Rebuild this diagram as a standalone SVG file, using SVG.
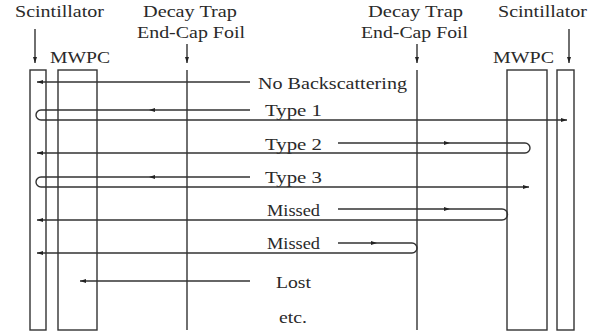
<svg xmlns="http://www.w3.org/2000/svg" width="599" height="336" viewBox="0 0 599 336" font-family="'Liberation Serif', 'DejaVu Serif', serif">
<defs>
<style>
text{font-family:'Liberation Serif','DejaVu Serif',serif;font-size:17px;fill:#2a2a2a}
.s{fill:none;stroke:#333;stroke-width:1.4}
.ma{fill:#222;stroke:none}
</style>
<marker id="ah" viewBox="0 0 6 4" refX="6" refY="2" markerWidth="6" markerHeight="4" orient="auto" markerUnits="userSpaceOnUse">
<path d="M0,0 L6,2 L0,4 z" fill="#222"/>
</marker>
</defs>
<rect width="599" height="336" fill="#fff"/>
<g id="scint-left">
<rect class="s" x="30" y="70" width="16" height="260"/>
<text x="15" y="17" textLength="89" lengthAdjust="spacingAndGlyphs">Scintillator</text>
</g>
<g id="mwpc-left">
<rect class="s" x="58" y="70" width="39" height="260"/>
<text x="50" y="63" textLength="60" lengthAdjust="spacingAndGlyphs">MWPC</text>
</g>
<g id="foil-left">
<line class="s" x1="187" y1="70" x2="187" y2="330"/>
<text x="143" y="17" textLength="94" lengthAdjust="spacingAndGlyphs">Decay Trap</text>
<text x="137" y="38" textLength="108" lengthAdjust="spacingAndGlyphs">End-Cap Foil</text>
</g>
<g id="foil-right">
<line class="s" x1="417" y1="70" x2="417" y2="330"/>
<text x="368" y="17" textLength="95" lengthAdjust="spacingAndGlyphs">Decay Trap</text>
<text x="361" y="38" textLength="107" lengthAdjust="spacingAndGlyphs">End-Cap Foil</text>
</g>
<g id="mwpc-right">
<rect class="s" x="507" y="70" width="40" height="260"/>
<text x="493" y="63" textLength="61" lengthAdjust="spacingAndGlyphs">MWPC</text>
</g>
<g id="scint-right">
<rect class="s" x="557" y="70" width="17" height="260"/>
<text x="498" y="17" textLength="89" lengthAdjust="spacingAndGlyphs">Scintillator</text>
</g>
<g id="labels">
<text x="258" y="89" textLength="149" lengthAdjust="spacingAndGlyphs">No Backscattering</text>
<text x="265" y="116" textLength="57" lengthAdjust="spacingAndGlyphs">Type 1</text>
<text x="265" y="150" textLength="57" lengthAdjust="spacingAndGlyphs">Type 2</text>
<text x="265" y="183" textLength="57" lengthAdjust="spacingAndGlyphs">Type 3</text>
<text x="267" y="216" textLength="53" lengthAdjust="spacingAndGlyphs">Missed</text>
<text x="267" y="249" textLength="53" lengthAdjust="spacingAndGlyphs">Missed</text>
<text x="276" y="288" textLength="35" lengthAdjust="spacingAndGlyphs">Lost</text>
<text x="279" y="323" textLength="28" lengthAdjust="spacingAndGlyphs">etc.</text>
</g>
<g id="connectors">
<line class="s" x1="35" y1="29" x2="35" y2="63" marker-end="url(#ah)"/>
<line class="s" x1="187" y1="44" x2="187" y2="63" marker-end="url(#ah)"/>
<line class="s" x1="417" y1="44" x2="417" y2="63" marker-end="url(#ah)"/>
<line class="s" x1="569" y1="29" x2="569" y2="63" marker-end="url(#ah)"/>
<path class="s" d="M250,82 H37" marker-end="url(#ah)"/>
<path class="s" d="M250,110 H41 A5,5 0 0 0 41,120 H567" marker-end="url(#ah)"/>
<path class="s" d="M338,143 H525 A5,5 0 0 1 525,153 H37" marker-end="url(#ah)"/>
<path class="s" d="M250,177 H41 A5,5 0 0 0 41,187 H529" marker-end="url(#ah)"/>
<path class="s" d="M338,209 H502 A5.5,5.5 0 0 1 502,220 H37" marker-end="url(#ah)"/>
<path class="s" d="M338,243 H412 A5,5 0 0 1 412,253 H37" marker-end="url(#ah)"/>
<path class="s" d="M250,281 H80" marker-end="url(#ah)"/>
<polygon class="ma" points="149,110 155,108 155,112"/>
<polygon class="ma" points="450,143 444,141 444,145"/>
<polygon class="ma" points="149,177 155,175 155,179"/>
<polygon class="ma" points="450,209 444,207 444,211"/>
<polygon class="ma" points="377,243 371,241 371,245"/>
</g>
</svg>
